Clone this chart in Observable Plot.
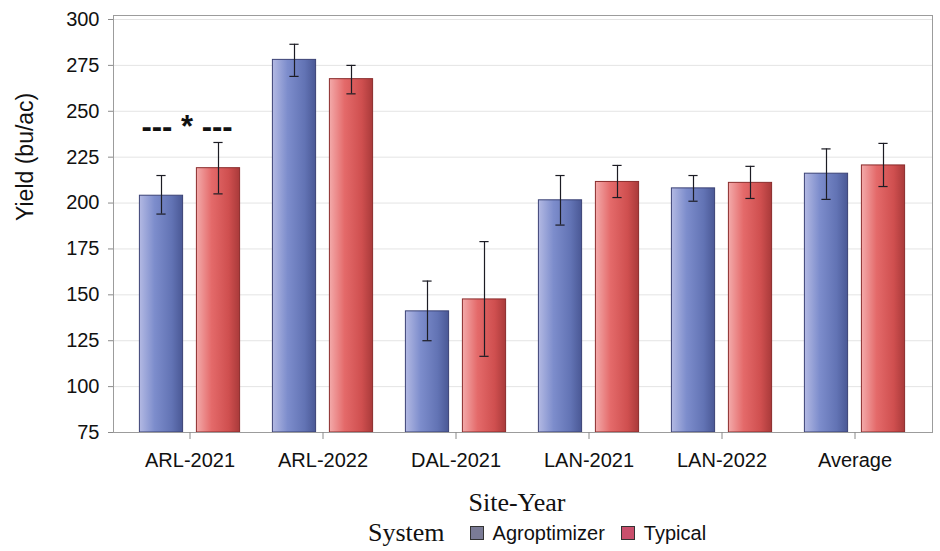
<!DOCTYPE html>
<html><head><meta charset="utf-8">
<script src="https://cdn.jsdelivr.net/npm/d3@7"></script>
<script src="https://cdn.jsdelivr.net/npm/@observablehq/plot@0.6"></script>
<style>
body{margin:0;background:#fff;font-family:"Liberation Sans",Arial,sans-serif;}
#chart{width:940px;height:551px;position:relative;overflow:hidden}
.legend{display:flex;align-items:center;margin-left:368px;height:36px;color:#111}
.legend .title{font-family:"Liberation Serif","Times New Roman",serif;font-size:26px;margin-right:25px}
.legend .sw{width:12px;height:12px;border:1px solid #333;margin-right:9px}
.legend .lab{font-size:20px;margin-right:16px}
</style></head><body><div id="chart"></div>
<script>
const categories = ["ARL-2021","ARL-2022","DAL-2021","LAN-2021","LAN-2022","Average"];
const systems = ["Agroptimizer","Typical"];
const agroMean = [204, 278, 141, 201.5, 208, 216];
const agroLow  = [194, 269, 125, 188, 201, 202];
const agroHigh = [215, 286.5, 157.5, 215, 215, 229.5];
const typMean  = [219, 267.5, 147.5, 211.5, 211, 220.5];
const typLow   = [205, 259.5, 116.5, 203, 202.5, 209];
const typHigh  = [233, 275, 179, 220.5, 220, 232.5];
const yDomain = [75, 300];
const yTicks = [75,100,125,150,175,200,225,250,275,300];
const annotations = [{site:"ARL-2021", y:242, text:"--- * ---"}];
const xTitle = "Site-Year";
const yTitle = "Yield (bu/ac)";
const legendTitle = "System";

const agroRows = categories.map((c,i)=>({site:c, system:systems[0], value:agroMean[i], lo:agroLow[i], hi:agroHigh[i]}));
const typRows  = categories.map((c,i)=>({site:c, system:systems[1], value:typMean[i], lo:typLow[i], hi:typHigh[i]}));

const errColor = "#1c1c24";
const plot = Plot.plot({
  width: 940, height: 515,
  marginLeft: 113, marginRight: 8, marginTop: 15, marginBottom: 83,
  style: {fontFamily: "'Liberation Sans', Arial, sans-serif", fontSize: "20px", color: "#111", background: "#fff"},
  x: {type: "band", domain: categories, padding: 0, insetLeft: 7, insetRight: 9, label: null},
  y: {domain: yDomain, insetTop: 4, label: null},
  marks: [
    Plot.gridY(yTicks, {stroke: "#e4e4e4", strokeOpacity: 1}),
    Plot.barY(agroRows, {x: "site", y1: yDomain[0], y2: "value", fill: "url(#gradAgro)", stroke: "#3b4275", strokeWidth: 1, insetLeft: 16.4, insetRight: 73.4}),
    Plot.barY(typRows, {x: "site", y1: yDomain[0], y2: "value", fill: "url(#gradTyp)", stroke: "#8a2c2c", strokeWidth: 1, insetLeft: 73.4, insetRight: 16.4}),
    Plot.ruleX(agroRows, {x: "site", y1: "lo", y2: "hi", dx: -28.5, stroke: errColor, strokeWidth: 1.2}),
    Plot.ruleX(typRows, {x: "site", y1: "lo", y2: "hi", dx: 28.5, stroke: errColor, strokeWidth: 1.2}),
    Plot.tickY(agroRows, {x: "site", y: "hi", insetLeft: 33.4, insetRight: 90.4, stroke: errColor, strokeWidth: 1.2}),
    Plot.tickY(agroRows, {x: "site", y: "lo", insetLeft: 33.4, insetRight: 90.4, stroke: errColor, strokeWidth: 1.2}),
    Plot.tickY(typRows, {x: "site", y: "hi", insetLeft: 90.4, insetRight: 33.4, stroke: errColor, strokeWidth: 1.2}),
    Plot.tickY(typRows, {x: "site", y: "lo", insetLeft: 90.4, insetRight: 33.4, stroke: errColor, strokeWidth: 1.2}),
    Plot.frame({stroke: "#9c9c9c"}),
    Plot.axisY(yTicks, {tickSize: 5, tickPadding: 9, fontSize: 20, fill: "#111", stroke: "#8a8a8a", label: null}),
    Plot.axisX({tickSize: 7, tickPadding: 13, fontSize: 20, fill: "#111", stroke: "#8a8a8a", label: null}),
    Plot.text(annotations, {x: "site", y: "y", text: "text", dx: -3, dy: 1, fontSize: 31, fontWeight: "bold", fill: "#111", style: "letter-spacing:1px"}),
    Plot.text([xTitle], {frameAnchor: "bottom", dy: 78, dx: -6, lineAnchor: "bottom", fontSize: 26, fontFamily: "'Liberation Serif', 'Times New Roman', serif", fill: "#111"}),
    Plot.text([yTitle], {frameAnchor: "left", rotate: -90, dx: -88, dy: -3, fontSize: 23, fill: "#111"})
  ]
});

const defs = d3.select(plot).insert("defs", ":first-child");
function grad(id, stops) {
  const g = defs.append("linearGradient").attr("id", id).attr("x1", "0%").attr("x2", "100%").attr("y1", "0%").attr("y2", "0%");
  stops.forEach(([o, c]) => g.append("stop").attr("offset", o).attr("stop-color", c));
}
grad("gradAgro", [["0%", "#b3b9e3"], ["35%", "#7d8dcc"], ["75%", "#6273b4"], ["100%", "#4a5895"]]);
grad("gradTyp", [["0%", "#f3aaaa"], ["35%", "#e46a6a"], ["75%", "#cf4f4f"], ["100%", "#a93a3a"]]);

const chart = document.getElementById("chart");
chart.appendChild(plot);

const legend = document.createElement("div");
legend.className = "legend";
const swatchColors = ["#7a7b96", "#c94f6c"];
let html = `<span class="title">${legendTitle}</span>`;
systems.forEach((s, i) => {
  html += `<span class="sw" style="background:${swatchColors[i]}"></span><span class="lab">${s}</span>`;
});
legend.innerHTML = html;
chart.appendChild(legend);
</script></body></html>
